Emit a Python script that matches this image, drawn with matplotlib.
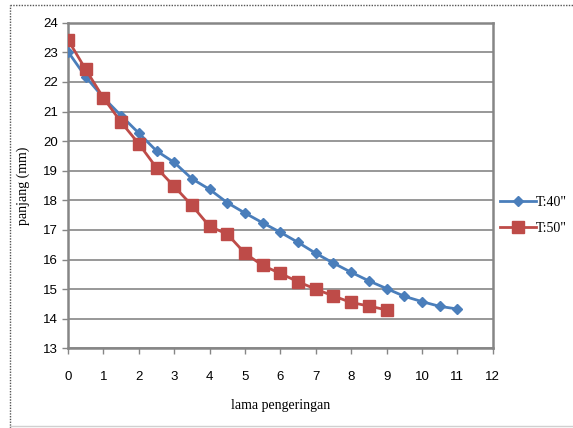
import matplotlib
matplotlib.use('Agg')
import matplotlib.pyplot as plt
from matplotlib.lines import Line2D

# lama pengeringan (x) and panjang (mm) for the two temperatures
x_40 = [0, 0.5, 1, 1.5, 2, 2.5, 3, 3.5, 4, 4.5, 5, 5.5, 6, 6.5, 7, 7.5,
        8, 8.5, 9, 9.5, 10, 10.5, 11]
y_40 = [23.02, 22.17, 21.47, 20.86, 20.27, 19.67, 19.28, 18.73, 18.37,
        17.92, 17.57, 17.24, 16.92, 16.58, 16.21, 15.88, 15.57, 15.28,
        15.02, 14.76, 14.58, 14.42, 14.33]
x_50 = [0, 0.5, 1, 1.5, 2, 2.5, 3, 3.5, 4, 4.5, 5, 5.5, 6, 6.5, 7, 7.5,
        8, 8.5, 9]
y_50 = [23.42, 22.42, 21.46, 20.64, 19.91, 19.1, 18.47, 17.83, 17.12,
        16.86, 16.21, 15.8, 15.53, 15.25, 15.0, 14.77, 14.55, 14.43, 14.3]
labels = ['T:40"', 'T:50"']

blue = '#4a7ebb'
red = '#be4b48'
grid_col = '#868686'

fig = plt.figure(figsize=(5.73, 4.28), dpi=100)
ax = fig.add_axes([0.1187, 0.186, 0.7413, 0.761])

ax.plot(x_40, y_40, color=blue, lw=2, marker='D', ms=5.5,
        markeredgecolor=blue, label=labels[0], zorder=3)
ax.plot(x_50, y_50, color=red, lw=2, marker='s', ms=8,
        markeredgecolor=red, label=labels[1], zorder=4)

ax.set_xlim(0, 12)
ax.set_ylim(13, 24)
ax.set_xticks(range(0, 13))
ax.set_yticks(range(13, 25))
ax.yaxis.grid(True, color=grid_col, lw=1.2)
ax.set_axisbelow(True)
for s in ax.spines.values():
    s.set_color(grid_col)
    s.set_linewidth(1.8)
ax.tick_params(axis='both', direction='out', length=4, width=1,
               color=grid_col, labelsize=9.5)
ax.tick_params(axis='x', pad=12)
ax.tick_params(axis='y', pad=3)
for t in ax.get_xticklabels() + ax.get_yticklabels():
    t.set_fontfamily('Liberation Sans')

ax.set_xlabel('lama pengeringan', family='Liberation Serif', fontsize=10,
              labelpad=12)
ax.set_ylabel('panjang (mm)', family='Liberation Serif', fontsize=10,
              labelpad=10)

handles = [Line2D([], [], color=blue, lw=2, marker='D', ms=5.5),
           Line2D([], [], color=red, lw=2, marker='s', ms=8)]
fig.legend(handles, labels, loc='center left', bbox_to_anchor=(0.85, 0.497),
           frameon=False, handlelength=2.6, handletextpad=0.0,
           labelspacing=0.9, prop={'family': 'Liberation Serif', 'size': 10})

# dotted frame of the chart object
fig.add_artist(Line2D([0.017, 1.0], [0.988, 0.988], color='#555555', lw=1,
                      ls=(0, (1, 1)), transform=fig.transFigure))
fig.add_artist(Line2D([0.017, 0.017], [0.0, 0.988], color='#555555', lw=1,
                      ls=(0, (1, 1)), transform=fig.transFigure))
fig.add_artist(Line2D([0.017, 1.0], [0.004, 0.004], color='#d0d0d0', lw=1,
                      transform=fig.transFigure))

fig.savefig('out.png', dpi=100)
